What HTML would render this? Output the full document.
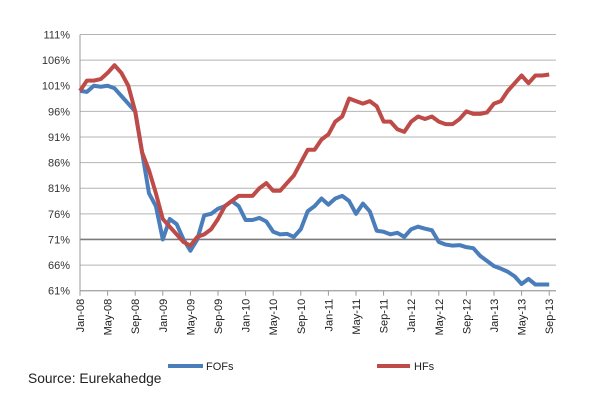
<!DOCTYPE html>
<html><head><meta charset="utf-8"><style>
body{margin:0;background:#fff;width:600px;height:412px;overflow:hidden;font-family:"Liberation Sans",sans-serif}
svg text{font-family:"Liberation Sans",sans-serif}
</style></head><body>
<svg id="chart" width="600" height="412" xmlns="http://www.w3.org/2000/svg"></svg>
<script>
const tickLabels=["Jan-08","May-08","Sep-08","Jan-09","May-09","Sep-09","Jan-10","May-10","Sep-10","Jan-11","May-11","Sep-11","Jan-12","May-12","Sep-12","Jan-13","May-13","Sep-13"];
const yTicks=[61,66,71,76,81,86,91,96,101,106,111];
const fofValues=[100,99.8,101,100.8,101,100.5,99,97.5,96,88,80,77.5,71,75,74,71,68.8,71,75.7,76,77,77.5,78.5,77.5,74.8,74.8,75.2,74.5,72.5,72,72.1,71.5,73,76.5,77.5,79,77.8,79,79.5,78.5,76,78,76.5,72.7,72.5,72,72.3,71.5,73,73.5,73.1,72.8,70.5,70,69.8,69.9,69.5,69.3,67.8,66.8,65.8,65.3,64.7,63.8,62.3,63.3,62.2,62.2,62.2];
const hfValues=[100,102,102,102.3,103.5,105,103.5,101,96,88,84.5,80,75,73.5,72,70.5,69.8,71.5,72,73,75,77.5,78.5,79.5,79.5,79.5,81,82,80.5,80.5,82,83.5,86,88.5,88.5,90.5,91.5,94,95,98.5,98,97.5,98,97,94,94,92.5,92,94,95,94.5,95,94,93.5,93.5,94.5,96,95.5,95.5,95.8,97.5,98,100,101.5,103,101.5,103,103,103.2];
const svg=document.getElementById('chart');
const NS='http://www.w3.org/2000/svg';
const x0=80,dx=6.9,yTop=34.5,yBot=290.7;
const X=i=>x0+i*dx;
const Y=v=>yBot-(v-61)/(111-61)*(yBot-yTop);
function mk(t,a,p){const e=document.createElementNS(NS,t);for(const k in a)e.setAttribute(k,a[k]);(p||svg).appendChild(e);return e;}
yTicks.forEach(v=>{
  const g=mk('line',{x1:x0,x2:556,y1:Y(v),y2:Y(v),stroke:v===71?'#7a7a7a':'#b4b4b4','stroke-width':v===71?1.6:1});
  
  
  const t=mk('text',{x:70,y:Y(v)+4,'text-anchor':'end','font-size':11,fill:'#333'});
  t.textContent=v+'%';
  
  
});
const ax=mk('line',{x1:x0,x2:x0,y1:yTop,y2:yBot,stroke:'#999'});


const bx=mk('line',{x1:x0,x2:556,y1:yBot,y2:yBot,stroke:'#999'});


tickLabels.forEach((l,k)=>{
  const x=X(k*4);
  const tk=mk('line',{x1:x,x2:x,y1:yBot,y2:yBot+5,stroke:'#999'});
  
  
  const t=mk('text',{x:0,y:0,'text-anchor':'end','font-size':11,fill:'#222',transform:`translate(${x+4},${yBot+8}) rotate(-90)`});
  t.textContent=l;
  
  
});
function line(vals,col,name){
  const p=mk('polyline',{points:vals.map((v,i)=>X(i)+','+Y(v)).join(' '),fill:'none',stroke:col,'stroke-width':4,'stroke-linejoin':'round'});
  
  
}
line(fofValues,'#4a7ebb','fofs-line');
line(hfValues,'#be4b48','hfs-line');
const l1=mk('line',{x1:168,x2:203,y1:366,y2:366,stroke:'#4a7ebb','stroke-width':4});


const t1=mk('text',{x:206,y:370,'font-size':11,fill:'#222'});t1.textContent='FOFs';


const l2=mk('line',{x1:377,x2:410,y1:366,y2:366,stroke:'#be4b48','stroke-width':4});


const t2=mk('text',{x:414,y:370,'font-size':11,fill:'#222'});t2.textContent='HFs';


const s=mk('text',{x:28,y:383,'font-size':13.8,fill:'#222'});s.textContent='Source: Eurekahedge';


</script>
</body></html>
